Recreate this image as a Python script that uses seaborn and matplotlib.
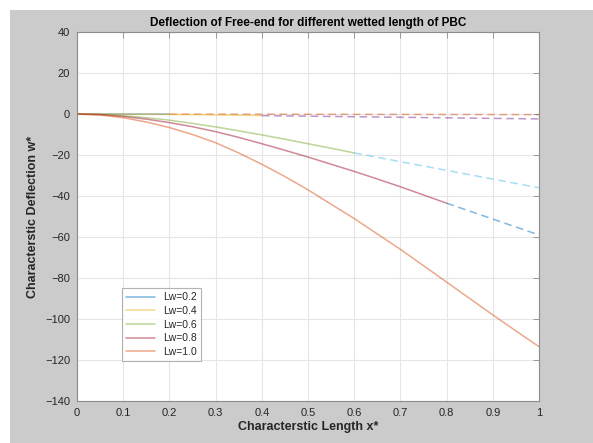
import matplotlib
matplotlib.use("Agg")
import matplotlib.pyplot as plt
import seaborn as sns
import pandas as pd
import numpy as np

# style
sns.set_style("white")
plt.rcParams['font.family'] = ['Liberation Sans', 'DejaVu Sans']

# data (x step 0.05)
x_grid = [0.0, 0.05, 0.1, 0.15, 0.2, 0.25, 0.3, 0.35, 0.4, 0.45, 0.5,
          0.55, 0.6, 0.65, 0.7, 0.75, 0.8, 0.85, 0.9, 0.95, 1.0]
w_lw10 = [0.0, -0.5, -1.8, -3.9, -6.6, -10.0, -14.0, -19.0, -24.5, -30.5, -37.0,
          -44.0, -51.0, -58.5, -66.0, -74.0, -82.0, -90.0, -98.0, -105.8, -113.5]
w_lw08 = [0.0, -0.3, -1.2, -2.5, -4.2, -6.2, -8.6, -11.4, -14.5, -17.7, -21.0,
          -24.5, -28.0, -31.7, -35.5, -39.5, -43.5]
w_lw06 = [0.0, -0.2, -0.8, -1.8, -3.0, -4.6, -6.3, -8.2, -10.2, -12.3, -14.5,
          -16.7, -19.0]
w_lw04 = [0.0, -0.01, -0.05, -0.12, -0.2, -0.32, -0.45, -0.6, -0.8]
w_lw02 = [0.0, -0.005, -0.02, -0.035, -0.05]

# dashed continuation of each free end: start x, start w, end w (at x=1)
ext_x0 = [0.2, 0.4, 0.6, 0.8]
ext_w0 = [-0.05, -0.8, -19.0, -43.5]
ext_w1 = [-0.3, -2.4, -36.0, -59.0]

labels = ['Lw=0.2', 'Lw=0.4', 'Lw=0.6', 'Lw=0.8', 'Lw=1.0']

# matlab default colour order
mcol = ['#0072BD', '#D95319', '#EDB120', '#7E2F8E', '#77AC30', '#4DBEEE', '#A2142F']
solid_cols = [mcol[0], mcol[2], mcol[4], mcol[6], mcol[1]]
dash_cols = [mcol[1], mcol[3], mcol[5], mcol[0]]

fig = plt.figure(figsize=(5.93, 4.43), dpi=100, facecolor='white')
# grey figure panel, white strip on top and left
fig.patches.append(plt.Rectangle((10 / 593, 0), 1, 1 - 10 / 443, transform=fig.transFigure,
                                 facecolor='#cbcbcb', edgecolor='none', zorder=-10))
ax = fig.add_axes([77 / 593, 1 - 401 / 443, 462 / 593, 369 / 443])
ax.set_facecolor('white')

solid_w = [w_lw02, w_lw04, w_lw06, w_lw08, w_lw10]
for i, w in enumerate(solid_w):
    df = pd.DataFrame({'x': x_grid[:len(w)], 'w': w})
    sns.lineplot(data=df, x='x', y='w', ax=ax, color=solid_cols[i], alpha=0.5,
                 linewidth=1.1, label=labels[i], sort=False)
    if i < 4:
        de = pd.DataFrame({'x': [ext_x0[i], 1.0], 'w': [ext_w0[i], ext_w1[i]]})
        sns.lineplot(data=de, x='x', y='w', ax=ax, color=dash_cols[i], alpha=0.5,
                     linewidth=1.1, linestyle=(0, (5, 3)), sort=False, legend=False)

ax.set_xlim(0, 1)
ax.set_ylim(-140, 40)
ax.set_xticks(np.arange(0, 1.01, 0.1))
ax.set_xticklabels(['0', '0.1', '0.2', '0.3', '0.4', '0.5', '0.6', '0.7', '0.8', '0.9', '1'])
ax.set_yticks(np.arange(-140, 41, 20))
ax.grid(True, color='#e6e6e6', linewidth=0.8)
ax.set_axisbelow(True)
for s in ax.spines.values():
    s.set_color('#8c8c8c')
    s.set_linewidth(0.8)
ax.tick_params(direction='in', length=4, width=0.6, color='#8c8c8c', top=True, right=True,
               labelsize=8, labelcolor='#262626', pad=5)

ax.set_title('Deflection of Free-end for different wetted length of PBC', fontsize=8.5,
             fontweight='bold', color='black', pad=4)
ax.set_xlabel('Characterstic Length x*', fontsize=9, fontweight='bold', color='#262626', labelpad=2)
ax.set_ylabel('Characterstic Deflection w*', fontsize=9, fontweight='bold', color='#262626', labelpad=4)

leg = ax.legend(loc='lower left', bbox_to_anchor=(0.097, 0.108), fontsize=7.5, frameon=True,
                fancybox=False, edgecolor='#a0a0a0', handlelength=2.8, borderpad=0.4,
                labelspacing=0.35, borderaxespad=0)
leg.get_frame().set_linewidth(0.8)

fig.savefig('out.png', dpi=100, facecolor=fig.get_facecolor())
